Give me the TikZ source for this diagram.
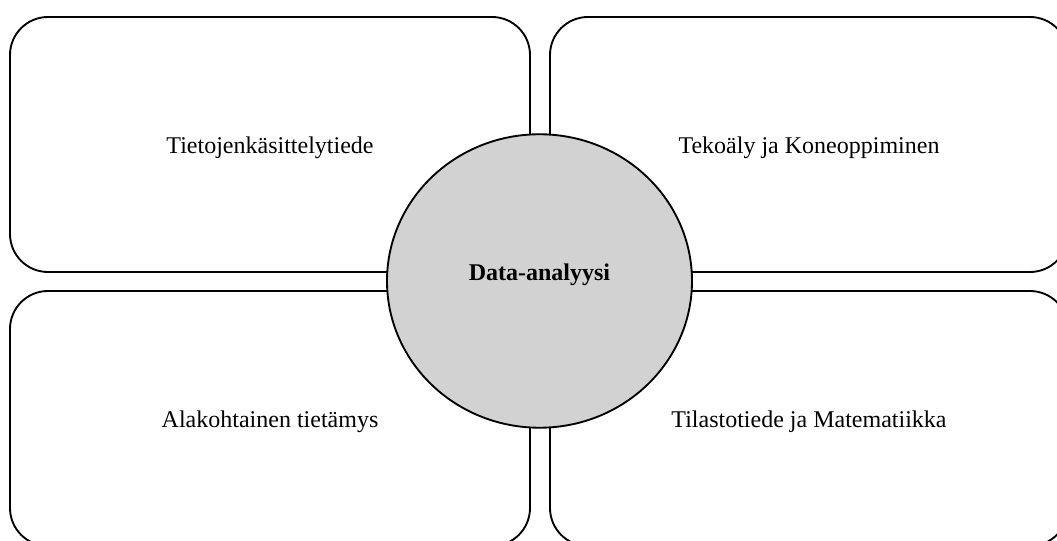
\documentclass[tikz,border=0pt]{standalone}
\usepackage{fontspec}
\setmainfont{Liberation Serif}
\usetikzlibrary{shapes.geometric}
\definecolor{hubgray}{RGB}{210,210,210}
\begin{document}
\begin{tikzpicture}[x=0.75pt,y=-0.75pt,
  areabox/.style={draw=black, line width=1.4pt, rounded corners=28.5pt,
    minimum height=191.25pt, inner sep=0pt,
    font=\fontsize{18pt}{21pt}\selectfont, text height=14.25pt, text depth=0pt},
  hub/.style={ellipse, draw=black, line width=1.4pt, fill=hubgray,
    minimum width=228.75pt, minimum height=220.1pt, inner sep=0pt,
    font=\fontsize{18pt}{21pt}\selectfont\bfseries, text height=6pt, text depth=6pt}]
\useasboundingbox (0,0) rectangle (1057,541);
\clip (0,0) rectangle (1057,541);
\node[areabox, minimum width=390pt] (tl) at (270,144.5) {Tietojenkäsittelytiede};
\node[areabox, minimum width=388.5pt] (tr) at (809,144.5) {Tekoäly ja Koneoppiminen};
\node[areabox, minimum width=390pt] (bl) at (270,418.5) {Alakohtainen tietämys};
\node[areabox, minimum width=388.5pt] (br) at (809,418.5) {Tilastotiede ja Matematiikka};
\node[hub] (hub) at (539.5,281) {Data-analyysi};
\end{tikzpicture}
\end{document}
